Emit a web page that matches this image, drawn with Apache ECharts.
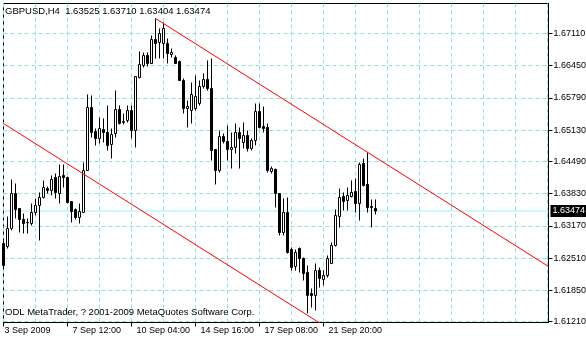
<!DOCTYPE html>
<html><head><meta charset="utf-8">
<script src="https://cdn.jsdelivr.net/npm/echarts@6/dist/echarts.min.js"></script>
<style>html,body{margin:0;padding:0;background:#fff}#c{width:586px;height:340px}</style>
</head><body><div id="c"></div>
<script>
const FONT = 'Liberation Sans';
const GRID_COLOR = '#94dede';
const PRICE_LINE_COLOR = '#a0f0f0';

const symbolTitle = 'GBPUSD,H4';
const copyright = 'ODL MetaTrader, ? 2001-2009 MetaQuotes Software Corp.';
const timeLabels = ['3 Sep 2009', '7 Sep 12:00', '10 Sep 04:00', '14 Sep 16:00', '17 Sep 08:00', '21 Sep 20:00'];
const timeLabelBars = [0, 16, 32, 48, 64, 80];
const yTickValues = [1.61210, 1.61850, 1.62510, 1.63170, 1.63830, 1.64490, 1.65130, 1.65790, 1.66450, 1.67110];

const opens = [1.62808,1.62746,1.63115,1.63832,1.63525,1.63300,1.63238,1.63218,1.63443,1.63586,
1.63750,1.63935,1.63894,1.64160,1.63832,1.64201,1.64160,1.63668,1.63504,1.63341,
1.63443,1.64303,1.65594,1.65102,1.64959,1.65143,1.65082,1.64836,1.65061,1.65553,
1.65287,1.65328,1.65532,1.65123,1.66209,1.66454,1.66659,1.66495,1.66987,1.66926,
1.66905,1.66905,1.66680,1.66618,1.66536,1.66147,1.65573,1.65532,1.65573,1.65676,
1.66024,1.66168,1.65983,1.64734,1.64303,1.65000,1.64898,1.64734,1.64775,1.65082,
1.64877,1.65020,1.64754,1.64918,1.65512,1.65205,1.65184,1.64283,1.64324,1.63832,
1.63033,1.63443,1.62685,1.62337,1.62705,1.62501,1.62214,1.61784,1.61743,1.62255,
1.62070,1.62152,1.62398,1.62767,1.63361,1.63771,1.63689,1.63771,1.63873,1.63627,
1.64447,1.64017,1.63566,1.63525];
const closes = [1.62357,1.63115,1.63832,1.63504,1.63300,1.63218,1.63232,1.63443,1.63586,1.63750,
1.63955,1.63894,1.64119,1.63853,1.64180,1.64160,1.63648,1.63463,1.63341,1.63463,
1.64303,1.65594,1.65082,1.64959,1.65164,1.65082,1.64816,1.65041,1.65553,1.65266,
1.65307,1.65532,1.65123,1.66229,1.66475,1.66659,1.66495,1.66987,1.66905,1.67110,
1.67212,1.66700,1.66721,1.66495,1.66147,1.65573,1.65614,1.65860,1.65819,1.66024,
1.66168,1.65983,1.64713,1.64303,1.65000,1.64898,1.64734,1.64775,1.65082,1.64959,
1.65020,1.64754,1.64918,1.65512,1.65184,1.65164,1.64303,1.64344,1.63832,1.63033,
1.63443,1.62624,1.62316,1.62624,1.62501,1.62193,1.61743,1.61743,1.62255,1.62091,
1.62152,1.62501,1.62767,1.63382,1.63750,1.63668,1.63791,1.63853,1.63627,1.64426,
1.63996,1.63545,1.63545,1.63474];
const highs = [1.62869,1.63361,1.64119,1.64037,1.63525,1.63422,1.63320,1.63627,1.63730,1.63853,
1.64099,1.63976,1.64201,1.64242,1.64426,1.64426,1.64180,1.63668,1.63525,1.63627,
1.64467,1.65860,1.65840,1.65164,1.65389,1.65369,1.65635,1.65164,1.65942,1.65635,
1.65471,1.65635,1.65635,1.66229,1.66741,1.66721,1.66721,1.67069,1.67417,1.67212,
1.67335,1.67008,1.66803,1.66659,1.66557,1.66188,1.65737,1.66106,1.66250,1.66147,
1.66291,1.66557,1.66598,1.64734,1.65123,1.65061,1.65225,1.65082,1.65266,1.65184,
1.65287,1.65123,1.64959,1.65676,1.65676,1.65614,1.65266,1.64385,1.64344,1.63832,
1.63730,1.63750,1.62726,1.62685,1.62726,1.62521,1.62357,1.61886,1.62398,1.62316,
1.62255,1.62562,1.62828,1.63504,1.63935,1.63853,1.63955,1.64099,1.64140,1.64467,
1.64549,1.64672,1.63709,1.63710];
const lows = [1.62296,1.62705,1.63074,1.63320,1.63033,1.63013,1.63013,1.63177,1.63382,1.62869,
1.63730,1.63832,1.63791,1.63730,1.63627,1.63955,1.63627,1.63238,1.63300,1.63218,
1.63443,1.64303,1.64979,1.64816,1.64857,1.64877,1.64713,1.64549,1.64979,1.65246,
1.65246,1.65287,1.64959,1.64775,1.66188,1.66413,1.66434,1.66495,1.66598,1.66598,
1.66598,1.66495,1.66618,1.66495,1.66147,1.65471,1.65184,1.65266,1.65532,1.65635,
1.65983,1.65942,1.64508,1.64017,1.64262,1.64857,1.64508,1.64344,1.64652,1.64344,
1.64754,1.64693,1.64713,1.64816,1.65164,1.65082,1.64262,1.64242,1.63545,1.62972,
1.62972,1.62603,1.62255,1.62255,1.62214,1.62050,1.61374,1.61497,1.61435,1.61907,
1.61948,1.62111,1.62398,1.62746,1.63136,1.63484,1.63484,1.63750,1.63443,1.63279,
1.63976,1.63443,1.63136,1.63404];

const upperChannel = [[38, 1.67417], [136.25, 1.62337]];
const lowerChannel = [[0, 1.65266], [80, 1.61130]];
const lastPrice = 1.63474;

const X_MIN = 0, X_MAX = 136.25;
const Y_MIN = 1.611895, Y_MAX = 1.677246;

const candles = opens.map((o, i) => [i, o, closes[i], lows[i], highs[i]]);
const last = opens.length - 1;
const titleText = symbolTitle + '  ' + [opens[last], highs[last], lows[last], closes[last]].map(v => v.toFixed(5)).join(' ');
const priceLine = [[X_MIN, lastPrice], [X_MAX, lastPrice]];

const txt = {fontFamily: FONT, fontSize: 9.5, fontWeight: 'normal', color: '#000'};
const chart = echarts.init(document.getElementById('c'), null, {renderer: 'canvas'});
chart.setOption({
  animation: false,
  backgroundColor: '#fff',
  title: [
    {text: titleText, left: 5, top: 6, padding: 0, textStyle: txt},
    {text: copyright, left: 5, top: 307, padding: 0, textStyle: txt}
  ],
  grid: {left: 3.5, top: 3.5, width: 545, height: 319, show: true, borderColor: '#000', borderWidth: 1,
         backgroundColor: 'transparent', containLabel: false, outerBoundsMode: 'none'},
  xAxis: [
    {type: 'value', min: X_MIN, max: X_MAX, interval: 8,
     axisLine: {show: true, onZero: false, lineStyle: {color: '#000', width: 1}},
     axisTick: {show: false}, axisLabel: {show: false},
     splitLine: {show: true, lineStyle: {color: GRID_COLOR, type: [4, 3], width: 1}}},
    {type: 'value', min: X_MIN, max: X_MAX, position: 'bottom',
     axisLine: {show: false, onZero: false},
     axisTick: {show: true, customValues: timeLabelBars, length: 4, lineStyle: {color: '#000'}},
     axisLabel: {show: true, customValues: timeLabelBars, align: 'left', margin: 4,
       fontFamily: FONT, fontSize: 9, color: '#000',
       formatter: v => { const k = timeLabelBars.indexOf(v); return k < 0 ? '' : (k === 0 ? '{f|' + timeLabels[k] + '}' : '{n|' + timeLabels[k] + '}'); },
       rich: {f: {padding: [0, 0, 0, 1], fontFamily: FONT, fontSize: 9, color: '#000'},
              n: {padding: [0, 0, 0, 5], fontFamily: FONT, fontSize: 9, color: '#000'}}},
     splitLine: {show: false}}
  ],
  yAxis: {type: 'value', position: 'right', min: Y_MIN, max: Y_MAX, scale: true,
    axisLine: {show: true, onZero: false, lineStyle: {color: '#000'}},
    axisTick: {show: true, customValues: yTickValues, length: 4, lineStyle: {color: '#000'}},
    axisLabel: {show: true, customValues: yTickValues, margin: 5, fontFamily: FONT, fontSize: 9, color: '#000',
      formatter: v => v.toFixed(5)},
    splitLine: {show: true, lineStyle: {color: GRID_COLOR, type: [4, 3], width: 1}}},
  series: [
    {type: 'line', xAxisIndex: 0, data: priceLine, symbol: 'none', silent: true, z: 1,
     lineStyle: {color: PRICE_LINE_COLOR, width: 1},
     endLabel: {show: true, distance: 2, formatter: () => lastPrice.toFixed(5),
       color: '#fff', backgroundColor: '#000', padding: [1, 2, 1, 2], lineHeight: 10,
       fontFamily: FONT, fontSize: 9}},
    {type: 'candlestick', xAxisIndex: 0, yAxisIndex: 0, data: candles, encode: {x: 0, y: [1, 2, 3, 4]},
     barWidth: 2, z: 3, silent: true,
     itemStyle: {color: '#fff', color0: '#000', borderColor: '#000', borderColor0: '#000', borderColorDoji: '#000', borderWidth: 1}},
    {type: 'line', xAxisIndex: 0, data: upperChannel, symbol: 'none', silent: true, z: 4,
     lineStyle: {color: '#ff0000', width: 1}},
    {type: 'line', xAxisIndex: 0, data: lowerChannel, symbol: 'none', silent: true, z: 4,
     lineStyle: {color: '#ff0000', width: 1}}
  ]
});
</script></body></html>
